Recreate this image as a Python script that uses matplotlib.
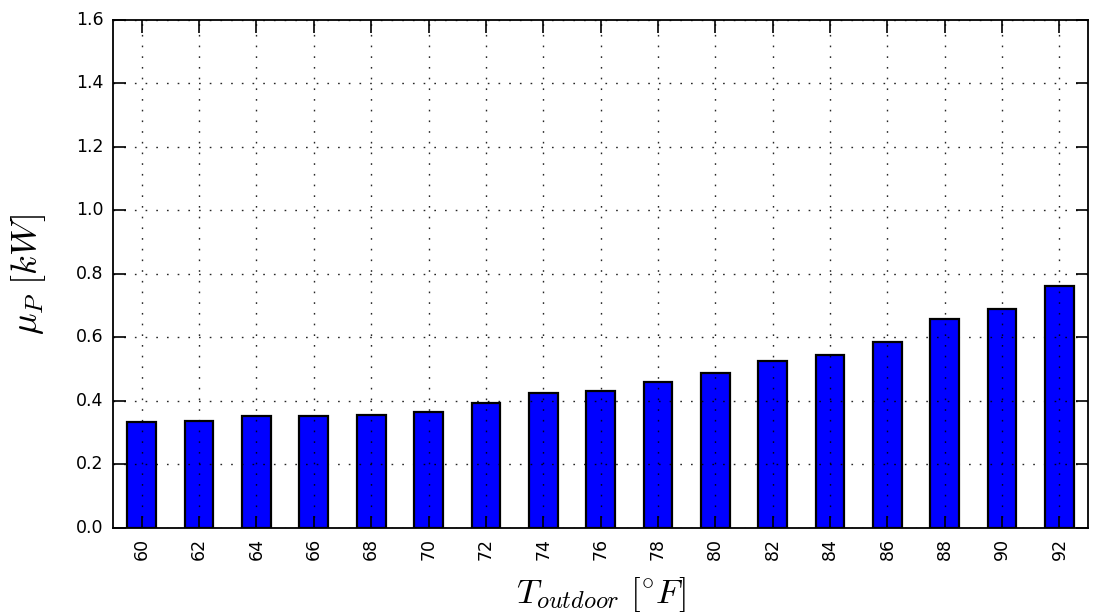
import matplotlib
matplotlib.use('Agg')
import matplotlib.pyplot as plt
import numpy as np

# mean power draw per outdoor temperature bin
temps = [60, 62, 64, 66, 68, 70, 72, 74, 76, 78, 80, 82, 84, 86, 88, 90, 92]
mu_p = [0.332, 0.338, 0.351, 0.351, 0.357, 0.364, 0.394, 0.425, 0.430,
        0.458, 0.488, 0.524, 0.543, 0.586, 0.659, 0.689, 0.763]

plt.style.use('classic')
plt.rcParams['mathtext.fontset'] = 'cm'

fig = plt.figure(figsize=(10.98, 6.16), dpi=100)
ax = fig.add_axes([0.103, 0.143, 0.888, 0.825])

x = np.arange(len(temps))
ax.bar(x, mu_p, width=0.5, align='center', color='b', edgecolor='k',
       linewidth=1.6, zorder=1)

ax.set_xlim(-0.5, len(temps) - 0.5)
ax.set_ylim(0, 1.6)
ax.set_xticks(x)
ax.set_xticklabels([str(t) for t in temps], rotation=90, fontsize=12.5)
yt = np.arange(0, 1.61, 0.2)
ax.set_yticks(yt)
ax.set_yticklabels([f'{v:.1f}' for v in yt], fontsize=12.5)
ax.tick_params(which='major', length=9, width=1.2, pad=7)
ax.grid(True, linestyle=(0, (1.2, 6.5)), color='k', linewidth=1.0, alpha=0.85)
# ticks and dotted grid sit on top of the bars
ax.xaxis.set_zorder(3)
ax.yaxis.set_zorder(3)
for s in ax.spines.values():
    s.set_linewidth(1.3)
    s.set_zorder(4)

ax.set_xlabel(r'$T_{outdoor}\ [^{\circ}F]$', fontsize=25, va='center')
ax.set_ylabel(r'$\mu_P\ [kW]$', fontsize=26, va='center')
ax.xaxis.set_label_coords(0.5, -0.132)
ax.yaxis.set_label_coords(-0.087, 0.5)

fig.savefig('out.png', dpi=100, facecolor='white')
